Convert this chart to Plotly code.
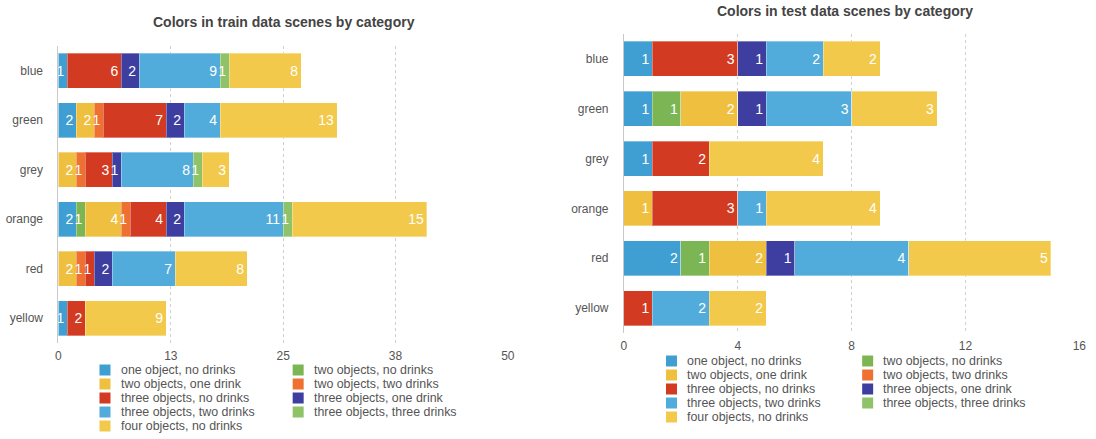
import plotly.graph_objects as go

# ---------------- data ----------------
categories = ["blue", "green", "grey", "orange", "red", "yellow"]

series_names = [
    "one object, no drinks",
    "two objects, no drinks",
    "two objects, one drink",
    "two objects, two drinks",
    "three objects, no drinks",
    "three objects, one drink",
    "three objects, two drinks",
    "three objects, three drinks",
    "four objects, no drinks",
]

series_colors = [
    "#3f9fd3", "#7cb654", "#efc03f", "#ef7131", "#d33a22",
    "#3e3ea0", "#51acdb", "#8ec36a", "#f2c94b",
]

train_one_no = [1, 2, 0, 2, 0, 1]
train_two_no = [0, 0, 0, 1, 0, 0]
train_two_one = [0, 2, 2, 4, 2, 0]
train_two_two = [0, 1, 1, 1, 1, 0]
train_three_no = [6, 7, 3, 4, 1, 2]
train_three_one = [2, 2, 1, 2, 2, 0]
train_three_two = [9, 4, 8, 11, 7, 0]
train_three_three = [1, 0, 1, 1, 0, 0]
train_four_no = [8, 13, 3, 15, 8, 9]

test_one_no = [1, 1, 1, 0, 2, 0]
test_two_no = [0, 1, 0, 0, 1, 0]
test_two_one = [0, 2, 0, 1, 2, 0]
test_two_two = [0, 0, 0, 0, 0, 0]
test_three_no = [3, 0, 2, 3, 0, 1]
test_three_one = [1, 1, 0, 0, 1, 0]
test_three_two = [2, 3, 0, 1, 4, 2]
test_three_three = [0, 0, 0, 0, 0, 0]
test_four_no = [2, 3, 4, 4, 5, 2]

train_series = [train_one_no, train_two_no, train_two_one, train_two_two,
                train_three_no, train_three_one, train_three_two,
                train_three_three, train_four_no]
test_series = [test_one_no, test_two_no, test_two_one, test_two_two,
               test_three_no, test_three_one, test_three_two,
               test_three_three, test_four_no]

train_title = "Colors in train data scenes by category"
test_title = "Colors in test data scenes by category"

# ---------------- layout helpers ----------------
W, H = 1096, 439
FONT = "Liberation Sans, Arial, Helvetica, sans-serif"


def px(x):
    # empirical horizontal correction for the rendered page
    return ((x - 2.6) / 0.99) / W


def py(y):
    return 1 - y / H


fig = go.Figure()

for vals_list, xa, ya in [(train_series, "x", "y"), (test_series, "x2", "y2")]:
    for name, color, vals in zip(series_names, series_colors, vals_list):
        fig.add_trace(go.Bar(
            y=categories,
            x=vals,
            name=name,
            orientation="h",
            xaxis=xa,
            yaxis=ya,
            marker=dict(color=color, line=dict(color="rgba(255,255,255,0.35)", width=1)),
            text=[str(v) if v else "" for v in vals],
            textposition="inside",
            insidetextanchor="end",
            textangle=0,
            constraintext="none",
            textfont=dict(color="white", size=14, family=FONT),
            showlegend=False,
            hoverinfo="x+y+name",
        ))

axis_common = dict(
    showgrid=True,
    gridcolor="#cfcfcf",
    griddash="dot",
    gridwidth=1,
    zeroline=False,
    ticks="",
    tickfont=dict(family=FONT, size=12, color="#555"),
    fixedrange=True,
)

fig.update_layout(
    width=W,
    height=H,
    margin=dict(l=0, r=0, t=0, b=0),
    paper_bgcolor="white",
    plot_bgcolor="white",
    barmode="stack",
    bargap=0.3,
    showlegend=False,
    uniformtext=dict(minsize=14, mode="show"),
    xaxis=dict(axis_common, domain=[px(58), px(507)], range=[0, 50], dtick=12.5,
               tick0=0, tickformat=".0f", anchor="y", ticklabelstandoff=4),
    yaxis=dict(axis_common, domain=[py(343), py(46)], categoryorder="array",
               categoryarray=categories, autorange="reversed", showgrid=False,
               showline=True, linecolor="#c8c8c8", linewidth=1, anchor="x",
               ticklabelstandoff=12),
    xaxis2=dict(axis_common, domain=[px(623), px(1078)], range=[0, 16], dtick=4,
                tick0=0, anchor="y2", ticklabelstandoff=4),
    yaxis2=dict(axis_common, domain=[py(333), py(34)], categoryorder="array",
                categoryarray=categories, autorange="reversed", showgrid=False,
                showline=True, linecolor="#c8c8c8", linewidth=1, anchor="x2",
                ticklabelstandoff=12),
)

# titles
annotations = [
    dict(text="<b>" + train_title + "</b>", x=px(283), y=py(22), xref="paper", yref="paper",
         xanchor="center", yanchor="middle", showarrow=False,
         font=dict(family=FONT, size=14, color="#444")),
    dict(text="<b>" + test_title + "</b>", x=px(844), y=py(11), xref="paper", yref="paper",
         xanchor="center", yanchor="middle", showarrow=False,
         font=dict(family=FONT, size=14, color="#444")),
]
shapes = []

# legends (two columns, row-wise fill in series order)
legend_specs = [
    dict(x0=99, y0=370, colw=193),   # train legend
    dict(x0=665, y0=361, colw=196),  # test legend
]
SW = 11
ROW = 14
for spec in legend_specs:
    for i, (name, color) in enumerate(zip(series_names, series_colors)):
        col, row = i % 2, i // 2
        sx = spec["x0"] + col * spec["colw"]
        sy = spec["y0"] + row * ROW
        shapes.append(dict(type="rect", xref="paper", yref="paper",
                           x0=px(sx), x1=px(sx + SW), y0=py(sy + SW / 2), y1=py(sy - SW / 2),
                           fillcolor=color, line=dict(width=0)))
        annotations.append(dict(text=name, x=px(sx + SW + 8), y=py(sy), xref="paper", yref="paper",
                                xanchor="left", yanchor="middle", showarrow=False,
                                font=dict(family=FONT, size=12.4, color="#555")))

fig.update_layout(annotations=annotations, shapes=shapes)

fig.write_html("out.html")
